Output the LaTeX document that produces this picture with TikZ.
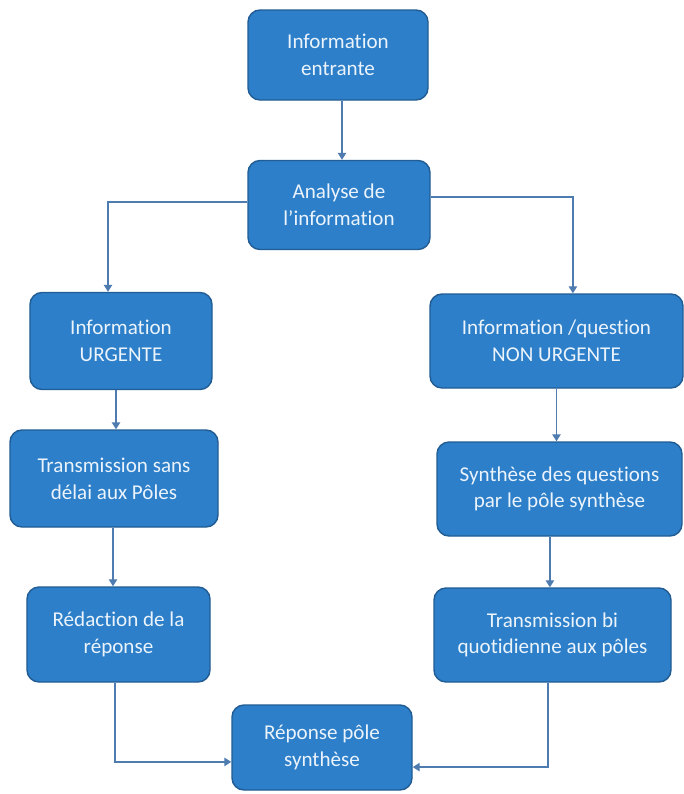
\documentclass[tikz,border=0pt]{standalone}
\usepackage{fontspec}
\setmainfont{Carlito}[Ligatures=CommonOff]
\usepackage{tikz}
\usetikzlibrary{arrows.meta}

\definecolor{boxblue}{RGB}{44,127,200}
\definecolor{boxedge}{RGB}{33,92,148}
\definecolor{flowline}{RGB}{78,124,176}
\definecolor{boxtext}{RGB}{235,243,252}

\begin{document}
\begin{tikzpicture}[>={Triangle[width=6pt,length=5pt]},
    etape/.style={rectangle,rounded corners=0.3cm,draw=boxedge,line width=1pt,
      fill=boxblue,text=boxtext,align=center,font=\fontsize{15}{19}\selectfont},
    flow/.style={->,draw=flowline,line width=1pt}]
  \useasboundingbox (0,0) rectangle (17.1,-19.85);

  \node[etape,minimum width=4.5cm,minimum height=2.25cm]    (Entrante)   at (8.45,-1.375)    {Information\\entrante};
  \node[etape,minimum width=4.55cm,minimum height=2.225cm]  (Analyse)    at (8.475,-5.125)   {Analyse de\\l'information};
  \node[etape,minimum width=4.55cm,minimum height=2.425cm]  (Urgente)    at (3.025,-8.525)   {Information\\URGENTE};
  \node[etape,minimum width=6.325cm,minimum height=2.35cm]  (NonUrgente) at (13.9125,-8.525) {Information /question\\NON URGENTE};
  \node[etape,minimum width=5.2cm,minimum height=2.425cm]   (Delai)      at (2.85,-11.9625)  {Transmission sans\\délai aux Pôles};
  \node[etape,minimum width=6.125cm,minimum height=2.35cm]  (Synthese)   at (13.9875,-12.225){Synthèse des questions\\par le pôle synthèse};
  \node[etape,minimum width=4.575cm,minimum height=2.375cm] (Redaction)  at (2.9625,-15.8625){Rédaction de la\\réponse};
  \node[etape,minimum width=5.925cm,minimum height=2.35cm]  (TransBi)    at (13.8125,-15.875){Transmission bi\\quotidienne aux pôles};
  \node[etape,minimum width=4.5cm,minimum height=2.125cm]   (Reponse)    at (8.05,-18.6875)  {Réponse pôle\\synthèse};

  % tri de l'information
  \draw[flow] ([xshift=0.1cm]Entrante.south) -- ([xshift=0.1cm]Entrante.south |- Analyse.north);
  \draw[flow] ([yshift=0.075cm]Analyse.west) -| ([xshift=-0.325cm]Urgente.north);
  \draw[flow] ([yshift=0.2cm]Analyse.east) -| ([xshift=0.41cm]NonUrgente.north);

  % branche urgente
  \draw[flow] ([xshift=-0.125cm]Urgente.south) -- ([xshift=-0.125cm]Urgente.south |- Delai.north);
  \draw[flow] ([xshift=-0.025cm]Delai.south) -- ([xshift=-0.025cm]Delai.south |- Redaction.north);
  \draw[flow] ([xshift=-0.09cm]Redaction.south) |- ([yshift=-0.36cm]Reponse.west);

  % branche non urgente
  \draw[flow] (NonUrgente.south) -- (NonUrgente.south |- Synthese.north);
  \draw[flow] ([xshift=-0.24cm]Synthese.south) -- ([xshift=-0.24cm]Synthese.south |- TransBi.north);
  \draw[flow] ([xshift=-0.11cm]TransBi.south) |- ([yshift=-0.49cm]Reponse.east);
\end{tikzpicture}
\end{document}
